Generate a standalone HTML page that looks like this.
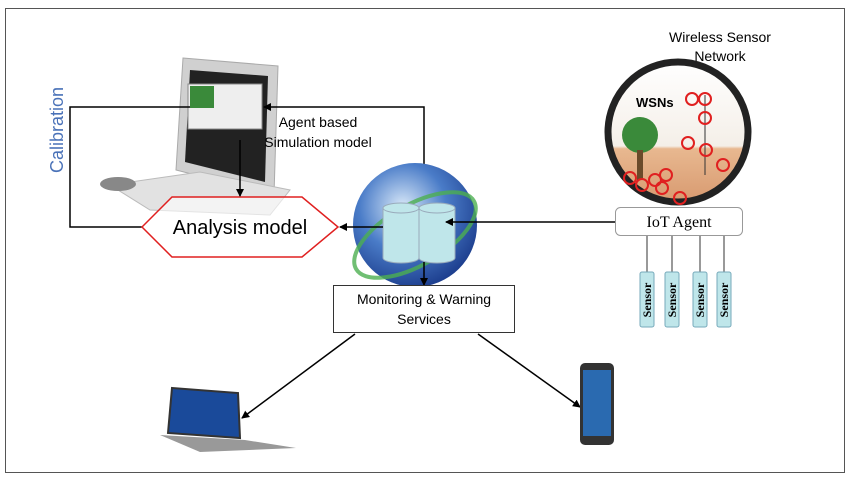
<!DOCTYPE html>
<html><head><meta charset="utf-8"><style>
body{margin:0;background:#fff;}
svg{display:block;font-family:"Liberation Sans",sans-serif;}
</style></head><body>
<svg width="850" height="481" viewBox="0 0 850 481">
<defs>
<marker id="a" markerWidth="8" markerHeight="8" refX="7" refY="4" orient="auto" markerUnits="userSpaceOnUse"><path d="M0,0 L8,4 L0,8z" fill="#000"/></marker>
<radialGradient id="g" cx="0.4" cy="0.35" r="0.7"><stop offset="0" stop-color="#d8e8f8"/><stop offset="0.5" stop-color="#4a7cc8"/><stop offset="1" stop-color="#1a3a8a"/></radialGradient>
<linearGradient id="sky" x1="0" y1="0" x2="0" y2="1"><stop offset="0" stop-color="#fff"/><stop offset="0.6" stop-color="#f4efe8"/><stop offset="0.62" stop-color="#e8b890"/><stop offset="1" stop-color="#d89a70"/></linearGradient>
</defs>
<rect x="5.5" y="8.5" width="839" height="464" fill="#fff" stroke="#555"/>
<!-- computer -->
<path d="M183,58 L278,66 L274,195 L176,170 Z" fill="#d0d0d0" stroke="#aaa"/>
<path d="M190,70 L268,76 L265,182 L185,162 Z" fill="#222"/>
<rect x="188" y="84" width="74" height="45" fill="#eee" stroke="#888"/>
<rect x="190" y="86" width="24" height="22" fill="#3a8a3a"/>
<path d="M110,185 L200,172 L290,190 L270,215 L150,210 Z" fill="#e2e2e2" stroke="#bbb"/>
<ellipse cx="118" cy="184" rx="18" ry="7" fill="#888"/>
<text x="58" y="130" transform="rotate(-90 58 130)" font-size="18" fill="#4a72b8" text-anchor="middle" dominant-baseline="middle">Calibration</text>
<polyline points="190,107 70,107 70,227 142,227" fill="none" stroke="#000" stroke-width="1.5"/>
<polygon points="142,227 172,197 302,197 338,227 302,257 172,257" fill="rgba(255,255,255,0.6)" stroke="#e02020" stroke-width="1.5"/>
<text x="240" y="234" font-size="20" text-anchor="middle">Analysis model</text>
<line x1="240" y1="140" x2="240" y2="196" stroke="#000" stroke-width="1.5" marker-end="url(#a)"/>
<polyline points="424,200 424,107 264,107" fill="none" stroke="#000" stroke-width="1.5" marker-end="url(#a)"/>
<line x1="424" y1="180" x2="424" y2="201" stroke="#000" stroke-width="1.5" marker-end="url(#a)"/>
<text x="318" y="127" font-size="14" text-anchor="middle">Agent based</text>
<text x="318" y="147" font-size="14" text-anchor="middle">Simulation model</text>
<!-- globe -->
<circle cx="415" cy="225" r="62" fill="url(#g)"/>
<ellipse cx="415" cy="235" rx="68" ry="30" fill="none" stroke="#4caf50" stroke-width="4" transform="rotate(-30 415 235)" opacity="0.8"/>
<path d="M383,208 v50 a18,5 0 0 0 36,0 v-50 a18,5 0 0 0 -36,0 a18,5 0 0 0 36,0" fill="#bfe6ea" stroke="#9ab"/>
<path d="M419,208 v50 a18,5 0 0 0 36,0 v-50 a18,5 0 0 0 -36,0 a18,5 0 0 0 36,0" fill="#bfe6ea" stroke="#9ab"/>
<line x1="383" y1="227" x2="340" y2="227" stroke="#000" stroke-width="1.5" marker-end="url(#a)"/>
<line x1="615" y1="222" x2="446" y2="222" stroke="#000" stroke-width="1.5" marker-end="url(#a)"/>
<line x1="424" y1="262" x2="424" y2="285" stroke="#000" stroke-width="1.5" marker-end="url(#a)"/>
<rect x="333.5" y="285.5" width="181" height="47" fill="#fff" stroke="#333"/>
<text x="424" y="304" font-size="14" text-anchor="middle">Monitoring &amp; Warning</text>
<text x="424" y="324" font-size="14" text-anchor="middle">Services</text>
<line x1="355" y1="334" x2="242" y2="418" stroke="#000" stroke-width="1.5" marker-end="url(#a)"/>
<line x1="478" y1="334" x2="580" y2="407" stroke="#000" stroke-width="1.5" marker-end="url(#a)"/>
<!-- laptop -->
<path d="M172,388 L238,393 L240,438 L168,433 Z" fill="#1a4a9a" stroke="#333" stroke-width="2"/>
<path d="M160,435 L245,440 L296,448 L200,452 Z" fill="#999"/>
<!-- phone -->
<rect x="580" y="363" width="34" height="82" rx="5" fill="#333"/>
<rect x="583" y="370" width="28" height="66" fill="#2a6ab0"/>
<!-- WSN -->
<text x="720" y="42" font-size="14" text-anchor="middle">Wireless Sensor</text>
<text x="720" y="61" font-size="14" text-anchor="middle">Network</text>
<circle cx="678" cy="132" r="70" fill="url(#sky)" stroke="#222" stroke-width="7"/>
<circle cx="640" cy="135" r="18" fill="#3a8a3a"/>
<rect x="637" y="150" width="6" height="30" fill="#6a4a2a"/>
<text x="636" y="107" font-size="13" font-weight="bold">WSNs</text>
<line x1="705" y1="95" x2="705" y2="175" stroke="#333"/>
<g fill="none" stroke="#e02020" stroke-width="2">
<circle cx="705" cy="99" r="6"/><circle cx="692" cy="99" r="6"/><circle cx="705" cy="118" r="6"/><circle cx="688" cy="143" r="6"/><circle cx="706" cy="150" r="6"/><circle cx="723" cy="165" r="6"/><circle cx="630" cy="178" r="6"/><circle cx="642" cy="185" r="6"/><circle cx="655" cy="180" r="6"/><circle cx="666" cy="175" r="6"/><circle cx="662" cy="188" r="6"/><circle cx="680" cy="198" r="6"/>
</g>
<rect x="615.5" y="207.5" width="127" height="28" rx="5" fill="#fff" stroke="#999"/>
<text x="679" y="227" font-size="16" text-anchor="middle" font-family="Liberation Serif,serif">IoT Agent</text>
<g stroke="#333"><line x1="647" y1="236" x2="647" y2="272"/><line x1="672" y1="236" x2="672" y2="272"/><line x1="700" y1="236" x2="700" y2="272"/><line x1="724" y1="236" x2="724" y2="272"/></g>
<g fill="#bfe6ea" stroke="#7ab"><rect x="640" y="272" width="14" height="55" rx="2"/><rect x="665" y="272" width="14" height="55" rx="2"/><rect x="693" y="272" width="14" height="55" rx="2"/><rect x="717" y="272" width="14" height="55" rx="2"/></g>
<g font-family="Liberation Serif,serif" font-size="12" font-weight="bold" text-anchor="middle">
<text transform="translate(651,300) rotate(-90)">Sensor</text>
<text transform="translate(676,300) rotate(-90)">Sensor</text>
<text transform="translate(704,300) rotate(-90)">Sensor</text>
<text transform="translate(728,300) rotate(-90)">Sensor</text>
</g>
</svg>
</body></html>
